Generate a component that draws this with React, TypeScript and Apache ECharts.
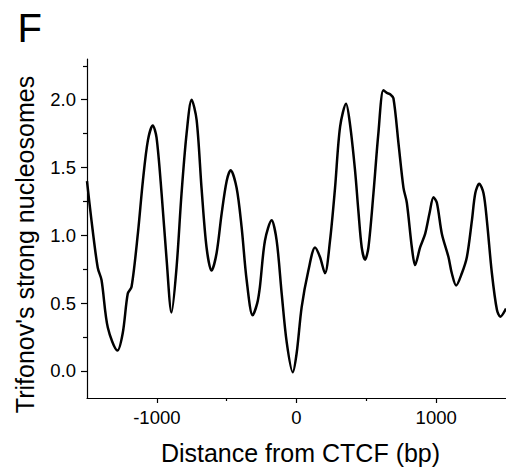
import React, { useEffect, useRef } from "react";
import * as echarts from "echarts";

const xValues = [
  -1500, -1468, -1423, -1396, -1351, -1282, -1244, -1208, -1181, -1136, -1100, -1064, -1029, -1002,
  -966, -930, -895, -859, -823, -787, -751, -715, -680, -644, -608, -572, -536, -500, -472, -429,
  -393, -357, -314, -281, -262, -226, -178, -142, -106, -70, -27, 1, 37, 85, 133, 168, 204, 240,
  276, 312, 355, 383, 419, 443, 467, 491, 515, 551, 586, 622, 647, 670, 694, 730, 766, 790, 826,
  849, 885, 921, 952, 981, 1005, 1041, 1088, 1112, 1143, 1184, 1220, 1256, 1280, 1308, 1339, 1363,
  1399, 1435, 1459, 1500,
];
const yValues = [
  1.4, 1.11, 0.76, 0.67, 0.32, 0.15, 0.28, 0.57, 0.62, 1.01, 1.4, 1.7, 1.81, 1.72,
  1.31, 0.82, 0.43, 0.76, 1.31, 1.75, 2.0, 1.85, 1.35, 0.91, 0.74, 0.87, 1.16, 1.4, 1.48, 1.35,
  1.06, 0.67, 0.41, 0.5, 0.62, 0.96, 1.11, 0.96, 0.57, 0.21, -0.01, 0.13, 0.47, 0.74, 0.91, 0.84, 0.72, 0.96,
  1.35, 1.8, 1.97, 1.82, 1.48, 1.18, 0.91, 0.82, 0.91, 1.31, 1.75, 2.07, 2.05, 2.04, 2.01, 1.68, 1.35, 1.24, 0.91,
  0.78, 0.91, 1.01, 1.16, 1.28, 1.24, 1.01, 0.84, 0.72, 0.63, 0.72, 0.84, 1.11, 1.31, 1.38, 1.31, 1.11,
  0.72, 0.45, 0.4, 0.46,
];

const xMajorTicks = [-1000, 0, 1000];
const xMinorTicks = [-500, 500];
const yMajorTicks = [0, 0.5, 1, 1.5, 2];
const yMinorTicks = [0.25, 0.75, 1.25, 1.75, 2.25];

const panelLabel = "F";
const xAxisTitle = "Distance from CTCF (bp)";
const yAxisTitle = "Trifonov's strong nucleosomes";

const FONT = "Liberation Sans, Arial, sans-serif";

export default function App() {
  const ref = useRef<HTMLDivElement>(null);
  useEffect(() => {
    if (!ref.current) return;
    const chart = echarts.init(ref.current, undefined, { renderer: "svg" });
    const data = xValues.map((x, i) => [x, yValues[i]]);
    const axisCommon = { min: -1500, max: 1500, type: "value" as const };
    chart.setOption({
      animation: false,
      backgroundColor: "#fff",
      grid: { left: 87, right: 0, top: 59, bottom: 72 },
      xAxis: [
        {
          ...axisCommon,
          position: "bottom",
          axisLine: { show: true, onZero: false, lineStyle: { color: "#000", width: 1.2 } },
          axisTick: { show: true, customValues: xMajorTicks, length: 5, lineStyle: { color: "#000", width: 1.2 } },
          axisLabel: {
            show: true,
            customValues: xMajorTicks,
            margin: 10,
            color: "#000",
            fontSize: 18.5,
            fontFamily: FONT,
            formatter: (v: number) => String(v),
          },
          splitLine: { show: false },
        },
        {
          ...axisCommon,
          position: "bottom",
          axisLine: { show: false, onZero: false },
          axisTick: { show: true, customValues: xMinorTicks, length: 3, lineStyle: { color: "#000", width: 1.2 } },
          axisLabel: { show: false },
          splitLine: { show: false },
        },
      ],
      yAxis: [
        {
          type: "value",
          min: -0.2,
          max: 2.3,
          position: "left",
          axisLine: { show: true, onZero: false, lineStyle: { color: "#000", width: 1.2 } },
          axisTick: { show: true, customValues: yMajorTicks, length: 6, lineStyle: { color: "#000", width: 1.2 } },
          axisLabel: {
            show: true,
            customValues: yMajorTicks,
            margin: 11,
            color: "#000",
            fontSize: 18.5,
            fontFamily: FONT,
            formatter: (v: number) => v.toFixed(1),
          },
          splitLine: { show: false },
        },
        {
          type: "value",
          min: -0.2,
          max: 2.3,
          position: "left",
          axisLine: { show: false, onZero: false },
          axisTick: { show: true, customValues: yMinorTicks, length: 4, lineStyle: { color: "#000", width: 1.2 } },
          axisLabel: { show: false },
          splitLine: { show: false },
        },
      ],
      series: [
        {
          type: "line",
          xAxisIndex: 0,
          yAxisIndex: 0,
          data,
          smooth: 0.3,
          showSymbol: false,
          lineStyle: { color: "#000", width: 2.5 },
        },
      ],
      graphic: [
        {
          type: "text",
          x: 17.5,
          y: 27.8,
          style: { text: panelLabel, font: `40px ${FONT}`, fill: "#000", align: "left", verticalAlign: "middle" },
        },
        {
          type: "text",
          x: 300.5,
          y: 453,
          style: { text: xAxisTitle, font: `25px ${FONT}`, fill: "#000", align: "center", verticalAlign: "middle" },
        },
        {
          type: "text",
          x: 24.6,
          y: 244.5,
          rotation: Math.PI / 2,
          style: { text: yAxisTitle, font: `25px ${FONT}`, fill: "#000", align: "center", verticalAlign: "middle" },
        },
      ],
    });
    return () => chart.dispose();
  }, []);
  return (
    <div
      ref={ref}
      style={{ position: "absolute", left: 0, top: 0, width: 506, height: 470 }}
    />
  );
}
